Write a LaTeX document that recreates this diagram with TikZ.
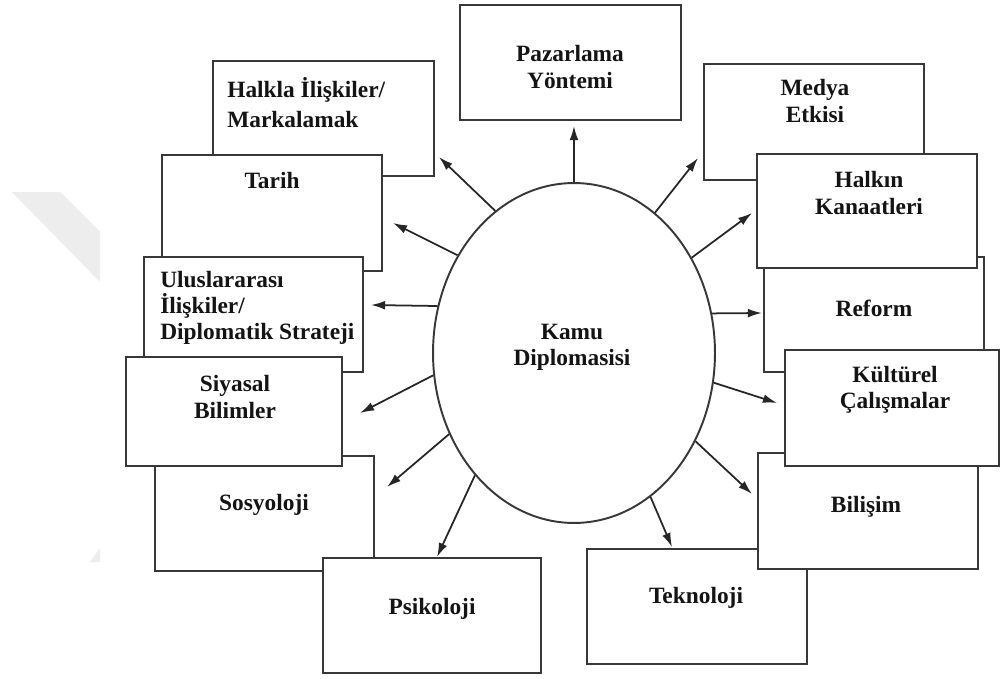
\documentclass[tikz,border=0pt]{standalone}
\usepackage{fontspec}
\setmainfont{Liberation Serif}
\usetikzlibrary{fit,shapes.geometric,arrows.meta}
\begin{document}
\begin{tikzpicture}[x=0.02cm,y=-0.02cm,
  box/.style={draw=black!78,line width=1.4pt,fill=white,inner sep=0pt},
  lbl/.style={text=black!92,font=\fontsize{13.3}{14.9}\selectfont\bfseries,inner sep=0pt,align=center},
  arr/.style={draw=black!85,line width=1pt,-{Latex[length=8pt,width=5pt]}},
  wm/.style={fill=black!7,draw=none}]
\useasboundingbox (0,0) rectangle (1001,679);
\fill[white] (0,0) rectangle (1001,679);
% watermark
\fill[wm] (12,192) -- (60,192) -- (100,232) -- (100,282) -- cycle;
\fill[wm] (90,562) -- (100,548) -- (100,562) -- cycle;
% boxes, back to front
\node[box,fit={(213,61) (434,176)}] (halkla) {};
\node[box,fit={(162,155) (382,271)}] (tarih) {};
\node[box,fit={(144,257) (363,372)}] (ulus) {};
\node[box,fit={(155,456) (374,571)}] (sosyo) {};
\node[box,fit={(126,357) (342,466)}] (siyasal) {};
\node[box,fit={(323,558) (541,673)}] (psiko) {};
\node[box,fit={(460,5) (681,120)}] (pazar) {};
\node[box,fit={(704,64) (924,180)}] (medya) {};
\node[box,fit={(764,257) (984,372)}] (reform) {};
\node[box,fit={(757,154) (977,268)}] (halkin) {};
\node[box,fit={(587,549) (807,664)}] (tekno) {};
\node[box,fit={(758,453) (978,569)}] (bilisim) {};
\node[box,fit={(785,350) (999,466)}] (kultur) {};
% labels
\node[lbl,anchor=west,align=left,font=\fontsize{13.3}{17}\selectfont\bfseries] (thalkla) at (227,103) {Halkla İlişkiler/\\Markalamak};
\node[lbl] (ttarih) at (272,181) {Tarih};
\node[lbl,anchor=west,align=left] (tulus) at (160,308) {Uluslararası\\İlişkiler/\\Diplomatik Strateji};
\node[lbl] (tsiyasal) at (235,397) {Siyasal\\Bilimler};
\node[lbl] (tsosyo) at (264,505) {Sosyoloji};
\node[lbl] (tpsiko) at (432,609) {Psikoloji};
\node[lbl] (tpazar) at (570,67) {Pazarlama\\Yöntemi};
\node[lbl] (tmedya) at (815,101) {Medya\\Etkisi};
\node[lbl] (thalkin) at (869,193) {Halkın\\Kanaatleri};
\node[lbl] (treform) at (874,308) {Reform};
\node[lbl] (tkultur) at (895,390) {Kültürel\\Çalışmalar};
\node[lbl] (tbilisim) at (866,507) {Bilişim};
\node[lbl] (ttekno) at (696,598) {Teknoloji};
% centre
\node[ellipse,draw=black!78,line width=1.1pt,minimum width=5.64cm,minimum height=6.8cm,inner sep=0pt] (kd) at (574,353) {};
\node[lbl] (tkd) at (572,347) {Kamu\\Diplomasisi};
% arrow tips
\coordinate (apazar) at (574,126);
\coordinate (ahalkla) at (439,157);
\coordinate (atarih) at (393,223);
\coordinate (aulus) at (371,305);
\coordinate (asiyasal) at (360,413);
\coordinate (asosyo) at (387,487);
\coordinate (apsiko) at (437,557);
\coordinate (atekno) at (672,547);
\coordinate (abilisim) at (752,494);
\coordinate (akultur) at (777,403);
\coordinate (areform) at (762,313);
\coordinate (ahalkin) at (752,213);
\coordinate (amedya) at (698,158);
% arrows
\draw[arr] (kd.90) -- (apazar);
\draw[arr] (kd.119.5) -- (ahalkla);
\draw[arr] (kd.140.3) -- (atarih);
\draw[arr] (kd.161.1) -- (aulus);
\draw[arr] (kd.189.9) -- (asiyasal);
\draw[arr] (kd.213.7) -- (asosyo);
\draw[arr] (kd.231.1) -- (apsiko);
\draw[arr] (kd.298.2) -- (atekno);
\draw[arr] (kd.324.1) -- (abilisim);
\draw[arr] (kd.348.5) -- (akultur);
\draw[arr] (kd.16.6) -- (areform);
\draw[arr] (kd.39.3) -- (ahalkin);
\draw[arr] (kd.60.9) -- (amedya);
\end{tikzpicture}
\end{document}
